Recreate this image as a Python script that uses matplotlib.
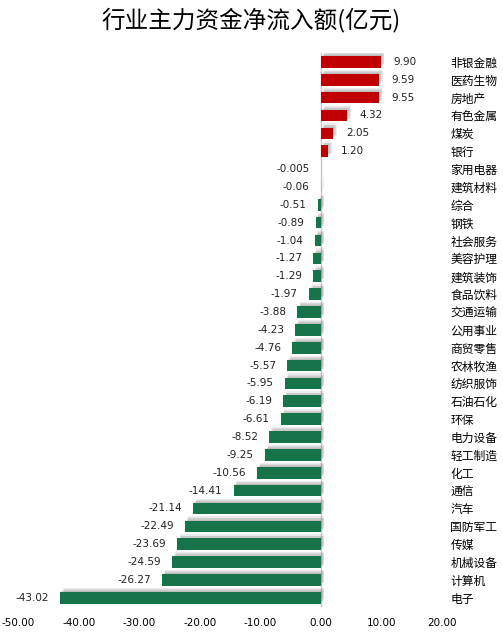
import matplotlib
matplotlib.use('Agg')
import matplotlib.pyplot as plt
import matplotlib.patheffects as pe

plt.rcParams['font.family'] = ['Noto Sans CJK SC', 'DejaVu Sans']

# industry net main-fund inflow (100 million yuan)
industries = ['非银金融', '医药生物', '房地产', '有色金属', '煤炭', '银行', '家用电器',
              '建筑材料', '综合', '钢铁', '社会服务', '美容护理', '建筑装饰', '食品饮料',
              '交通运输', '公用事业', '商贸零售', '农林牧渔', '纺织服饰', '石油石化', '环保',
              '电力设备', '轻工制造', '化工', '通信', '汽车', '国防军工', '传媒', '机械设备',
              '计算机', '电子']
inflow = [9.90, 9.59, 9.55, 4.32, 2.05, 1.20, -0.005, -0.06, -0.51, -0.89, -1.04, -1.27,
          -1.29, -1.97, -3.88, -4.23, -4.76, -5.57, -5.95, -6.19, -6.61, -8.52, -9.25,
          -10.56, -14.41, -21.14, -22.49, -23.69, -24.59, -26.27, -43.02]
labels = ['9.90', '9.59', '9.55', '4.32', '2.05', '1.20', '-0.005', '-0.06', '-0.51', '-0.89',
          '-1.04', '-1.27', '-1.29', '-1.97', '-3.88', '-4.23', '-4.76', '-5.57', '-5.95',
          '-6.19', '-6.61', '-8.52', '-9.25', '-10.56', '-14.41', '-21.14', '-22.49',
          '-23.69', '-24.59', '-26.27', '-43.02']
xticks = [-50, -40, -30, -20, -10, 0, 10, 20]

red = '#C00000'
green = '#17734A'
colors = [red if v > 0 else green for v in inflow]

fig = plt.figure(figsize=(5.03, 6.38), dpi=100)
ax = fig.add_axes([0.036, 0.049, 0.843, 0.868])

pos = list(range(len(industries)))
bars = ax.barh(pos, inflow, height=0.65, color=colors, zorder=3)
# soft, blurred-looking shadow built from a few faint offset copies
shadow = [pe.SimplePatchShadow(offset=o, shadow_rgbFace='#606060', alpha=0.12)
          for o in [(0.5, 0.5), (1.5, 1.5), (2.5, 2), (2, 3)]]
for b in bars:
    b.set_path_effects(shadow + [pe.Normal()])

for p, v, s in zip(pos, inflow, labels):
    if v > 0:
        ax.annotate(s, (v, p), xytext=(9, 0), textcoords='offset points', ha='left',
                    va='center', fontsize=7.5, color='#222222', family='DejaVu Sans')
    else:
        ax.annotate(s, (v, p), xytext=(-8, 0), textcoords='offset points', ha='right',
                    va='center', fontsize=7.5, color='#222222', family='DejaVu Sans')

ax.axvline(0, color='#C8C8C8', lw=1, zorder=2)

ax.set_xlim(-50, 20)
ax.set_ylim(len(industries) - 0.5, -0.5)
ax.set_xticks(xticks)
ax.set_xticklabels([f'{t:.2f}' for t in xticks], fontsize=7.5, family='DejaVu Sans')
ax.yaxis.tick_right()
ax.set_yticks(pos)
ax.set_yticklabels(industries, fontsize=8.5)
ax.tick_params(axis='both', length=0)
ax.tick_params(axis='y', pad=6)
ax.tick_params(axis='x', pad=8)
for sp in ax.spines.values():
    sp.set_visible(False)

fig.text(0.5, 0.968, '行业主力资金净流入额(亿元)', ha='center', va='center', fontsize=17)

fig.savefig('out.png', dpi=100)
